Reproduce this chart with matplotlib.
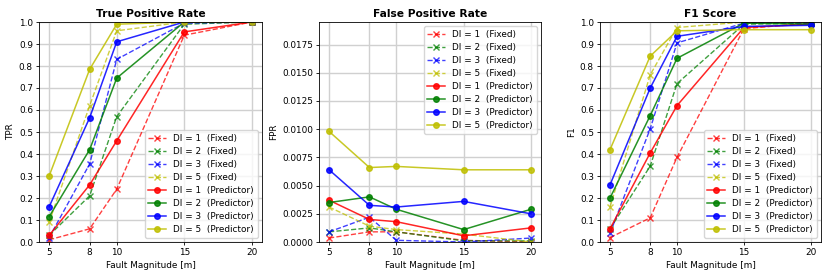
import matplotlib
matplotlib.use('Agg')
import matplotlib.pyplot as plt
import numpy as np

x = [5, 8, 10, 15, 20]
di_levels = [1, 2, 3, 5]
colores = ['r', 'g', 'b', 'y']

tpr_fixed = [
    [0.01, 0.06, 0.24, 0.94, 1.0],
    [0.03, 0.21, 0.57, 0.99, 1.0],
    [0.02, 0.355, 0.83, 0.995, 1.0],
    [0.09, 0.62, 0.96, 1.0, 1.0],
]
tpr_pred = [
    [0.03, 0.26, 0.46, 0.955, 1.0],
    [0.115, 0.42, 0.745, 1.0, 1.0],
    [0.16, 0.565, 0.91, 1.0, 1.0],
    [0.30, 0.785, 0.99, 1.0, 1.0],
]
fpr_fixed = [
    [0.00035, 0.0009, 0.0009, 0.00015, 0.0],
    [0.0009, 0.00125, 0.0009, 0.0001, 0.0001],
    [0.0009, 0.0022, 0.00015, 0.0, 0.00035],
    [0.0031, 0.0014, 0.0011, 0.0007, 0.0],
]
fpr_pred = [
    [0.0037, 0.002, 0.0018, 0.00055, 0.00125],
    [0.0035, 0.004, 0.0029, 0.0011, 0.0029],
    [0.0064, 0.00325, 0.0031, 0.0036, 0.0025],
    [0.0098, 0.0066, 0.0067, 0.0064, 0.0064],
]
f1_fixed = [
    [0.02, 0.11, 0.385, 0.97, 0.995],
    [0.06, 0.345, 0.72, 0.99, 0.995],
    [0.04, 0.515, 0.905, 0.995, 0.995],
    [0.16, 0.76, 0.975, 1.0, 1.0],
]
f1_pred = [
    [0.06, 0.405, 0.62, 0.975, 0.99],
    [0.20, 0.575, 0.835, 0.995, 0.99],
    [0.26, 0.70, 0.935, 0.98, 0.985],
    [0.42, 0.845, 0.96, 0.965, 0.965],
]

paneles = [
    ('True Positive Rate', 'TPR', tpr_fixed, tpr_pred, (0, 1.0), 'lower right'),
    ('False Positive Rate', 'FPR', fpr_fixed, fpr_pred, (0, 0.0195), 'upper right'),
    ('F1 Score', 'F1', f1_fixed, f1_pred, (0, 1.0), 'lower right'),
]

# figura original reducida ~0.64x
plt.rcParams['font.size'] = 6.4
plt.rcParams['axes.linewidth'] = 0.6
plt.rcParams['xtick.major.size'] = 2.2
plt.rcParams['ytick.major.size'] = 2.2
plt.rcParams['xtick.major.pad'] = 2.2
plt.rcParams['ytick.major.pad'] = 2.2
plt.rcParams['xtick.major.width'] = 0.6
plt.rcParams['ytick.major.width'] = 0.6
fig = plt.figure(figsize=(8.3, 2.77), dpi=100)
posiciones = [(39, 262), (319, 541), (600, 821)]

for (titulo, ylab, fijo, pred, ylim, loc), (l, r) in zip(paneles, posiciones):
    ax = fig.add_axes([l / 830, 35 / 277, (r - l) / 830, 220 / 277])
    for i, di in enumerate(di_levels):
        ax.plot(x, fijo[i], '--', marker='x', color=colores[i], alpha=0.75,
                markersize=4, lw=1, label='DI = {}  (Fixed)'.format(di))
    for i, di in enumerate(di_levels):
        ax.plot(x, pred[i], '-', marker='o', color=colores[i], alpha=0.85,
                markersize=4, lw=1.1, label='DI = {}  (Predictor)'.format(di))
    ax.set_title(titulo, fontweight='bold', pad=3.8)
    ax.set_xlabel('Fault Magnitude [m]', labelpad=2.6)
    ax.set_ylabel(ylab, labelpad=2.6)
    ax.set_xticks(x)
    ax.set_ylim(ylim)
    if ylab != 'FPR':
        ax.set_yticks(np.arange(0, 1.01, 0.1))
    ax.grid(True, color='#d0d0d0', lw=1)
    ax.legend(loc=loc, labelspacing=0.45)

plt.savefig('out.png', dpi=100)
